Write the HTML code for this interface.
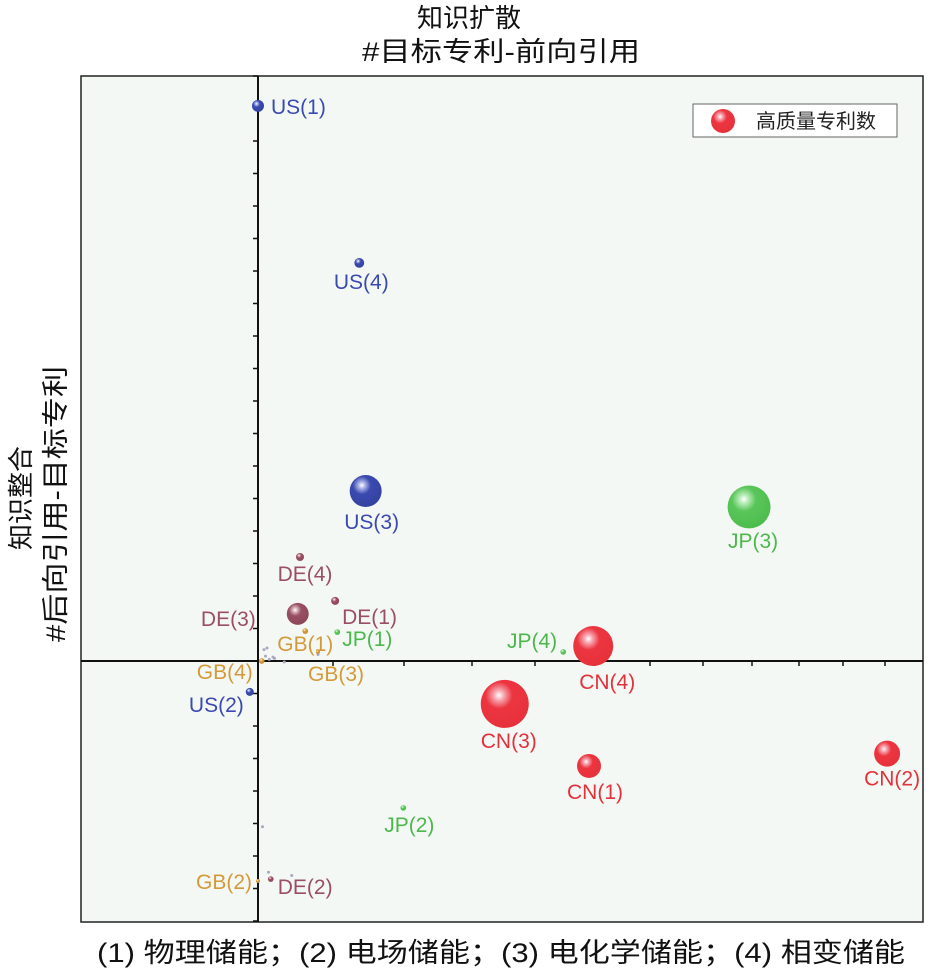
<!DOCTYPE html>
<html><head><meta charset="utf-8">
<style>
html,body{margin:0;padding:0;background:#fff;}
svg{display:block;font-family:"Liberation Sans","Noto Sans CJK SC",sans-serif;}
</style></head>
<body>
<svg id="chart" width="940" height="972" viewBox="0 0 940 972" xmlns="http://www.w3.org/2000/svg">
<defs>
  <radialGradient id="g-US" cx="0.38" cy="0.32" r="0.7"><stop offset="0" stop-color="#fff"/><stop offset="0.15" stop-color="#aab2e8"/><stop offset="0.4" stop-color="#3b4ab0"/><stop offset="1" stop-color="#34429f"/></radialGradient>
  <radialGradient id="g-DE" cx="0.38" cy="0.32" r="0.7"><stop offset="0" stop-color="#fff"/><stop offset="0.15" stop-color="#d8b4bd"/><stop offset="0.4" stop-color="#9a4f63"/><stop offset="1" stop-color="#8c4759"/></radialGradient>
  <radialGradient id="g-GB" cx="0.38" cy="0.32" r="0.7"><stop offset="0" stop-color="#fff"/><stop offset="0.15" stop-color="#f0d29e"/><stop offset="0.4" stop-color="#d49a3a"/><stop offset="1" stop-color="#c68c30"/></radialGradient>
  <radialGradient id="g-JP" cx="0.38" cy="0.32" r="0.7"><stop offset="0" stop-color="#fff"/><stop offset="0.15" stop-color="#b6ecb6"/><stop offset="0.4" stop-color="#5ac65a"/><stop offset="1" stop-color="#4cbc4c"/></radialGradient>
  <radialGradient id="g-CN" cx="0.38" cy="0.32" r="0.7"><stop offset="0" stop-color="#fff"/><stop offset="0.15" stop-color="#f7a6b0"/><stop offset="0.4" stop-color="#ec3540"/><stop offset="1" stop-color="#e6313b"/></radialGradient>
</defs>
<text x="469" y="27" text-anchor="middle" font-size="26" fill="#111">知识扩散</text>
<text x="362" y="61" font-size="27" textLength="278" lengthAdjust="spacingAndGlyphs" fill="#111">#目标专利-前向引用</text>
<text transform="translate(30,498) rotate(-90)" text-anchor="middle" font-size="26" fill="#111">知识整合</text>
<text transform="translate(65,642) rotate(-90)" font-size="27" textLength="276" lengthAdjust="spacingAndGlyphs" fill="#111">#后向引用-目标专利</text>
<rect x="81" y="76" width="842" height="846" fill="#f3f8f4" stroke="#222" stroke-width="1.5"/>
<g id="axes"></g>
<g id="marks"></g>
<g>
  <rect x="693" y="104" width="204" height="33" fill="#fff" stroke="#666" stroke-width="1"/>
  <circle cx="723" cy="121" r="12" fill="url(#g-CN)"/>
  <text x="756" y="128" font-size="20" fill="#222">高质量专利数</text>
</g>
<text x="97" y="962" font-size="27" textLength="808" lengthAdjust="spacingAndGlyphs" fill="#111">(1) 物理储能；(2) 电场储能；(3) 电化学储能；(4) 相变储能</text>
</svg>
<script>
const labels = ["US(1)","US(4)","US(3)","US(2)","DE(4)","DE(3)","DE(1)","DE(2)","GB(1)","GB(4)","GB(3)","GB(2)","JP(1)","JP(4)","JP(3)","JP(2)","CN(4)","CN(3)","CN(1)","CN(2)"];
const countries = ["US","US","US","US","DE","DE","DE","DE","GB","GB","GB","GB","JP","JP","JP","JP","CN","CN","CN","CN"];
const xValues = [0,1.37,1.46,-0.11,0.56,0.53,1.03,0.17,0.63,0.05,0.8,0,1.06,4.47,7.94,1.99,4.97,3.52,4.9,11.05];
const yValues = [17.08,12.25,5.23,-0.95,3.2,1.45,1.85,-6.71,0.92,0,0.28,-6.77,0.89,0.28,4.74,-4.52,0.46,-1.32,-3.23,-2.85];
const counts = [9,6,64,4,4,30,4,2,2,2,1,1,2,2,115,2,100,144,36,42];
const xTickValues = [1,2,3,4,5,6,7,8,9,10,11];
const yTickValues = [-8,-7,-6,-5,-4,-3,-2,-1,1,2,3,4,5,6,7,8,9,10,11,12,13,14,15,16,17,18];

const colors = {US:"#3b4ab0",DE:"#9a4f63",GB:"#d49a3a",JP:"#4cb84c",CN:"#e2323c"};
const xUnitPx = [0,75,146,214,277,337,392,445,494,541,585,627];
const X0 = 258, Y0 = 661, YUNIT = 32.5;
function xs(v){
  if (v <= 0) return X0 + v*75;
  const n = xUnitPx.length-1;
  if (v >= n) return X0 + xUnitPx[n] + (v-n)*42;
  const i = Math.floor(v), f = v - i;
  return X0 + xUnitPx[i] + f*(xUnitPx[i+1]-xUnitPx[i]);
}
function ys(v){ return Y0 - v*YUNIT; }
function rs(c){ return 2*Math.sqrt(c); }
const labelPlace = [["start",13,8],["middle",2,26],["middle",6,38],["end",-6,20],["middle",5,24],["end",-42,12],["start",7,23],["start",7,15],["start",-28,20],["end",-9,18],["middle",18,29],["end",-6,8],["start",5,14],["end",-6,-4],["middle",4,41],["middle",6,24],["middle",14,43],["middle",4,44],["middle",6,33],["middle",5,32]];

const NS="http://www.w3.org/2000/svg";
const axes=document.getElementById('axes'), marks=document.getElementById('marks');
function mk(tag,attrs,parent){const e=document.createElementNS(NS,tag);for(const k in attrs)e.setAttribute(k,attrs[k]);parent.appendChild(e);return e;}

let l=mk('line',{x1:81,y1:Y0,x2:923,y2:Y0,stroke:"#111","stroke-width":2},axes);


l=mk('line',{x1:X0,y1:76,x2:X0,y2:922,stroke:"#111","stroke-width":2},axes);


xTickValues.forEach(v=>{
  const t=mk('line',{x1:xs(v),y1:Y0,x2:xs(v),y2:Y0+5,stroke:"#111","stroke-width":1.5},axes);
  
  
});
yTickValues.forEach(v=>{
  const t=mk('line',{x1:X0-5,y1:ys(v),x2:X0,y2:ys(v),stroke:"#111","stroke-width":1.5},axes);
  
  
});
const greyX=[0.08,0.12,0.1,0.15,0.2,0.22,0.8,0.35,0.14,0.06,0.45];
const greyY=[0.35,0.4,0.15,0.05,0.12,0.08,0.2,-0.03,-6.5,-5.1,-6.6];
greyX.forEach((v,i)=>{
  const c=mk('circle',{cx:xs(v),cy:ys(greyY[i]),r:1.5,fill:"#a8a8c0"},marks);
  
  
});
labels.forEach((lab,i)=>{
  const cx=xs(xValues[i]), cy=ys(yValues[i]), r=rs(counts[i]);
  const c=mk('circle',{cx:cx,cy:cy,r:r,fill:"url(#g-"+countries[i]+")"},marks);
  
  
  const p=labelPlace[i];
  const t=mk('text',{x:cx+p[1],y:cy+p[2],"text-anchor":p[0],"font-size":21,fill:colors[countries[i]]},marks);
  t.textContent=lab;
  
  
});
</script>
</body></html>
